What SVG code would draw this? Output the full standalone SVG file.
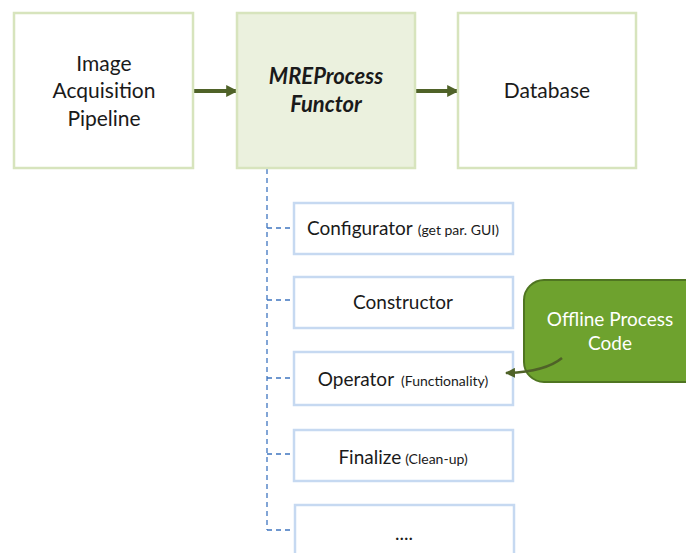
<svg xmlns="http://www.w3.org/2000/svg" width="686" height="553" viewBox="0 0 686 553">
<style>
.top{fill:#ffffff;stroke:#d7e4bd;stroke-width:2.5}
.mid{fill:#ebf1de;stroke:#d7e4bd;stroke-width:2.5}
.sub{fill:#ffffff;stroke:#c6d9f1;stroke-width:2.5}
.t{font-family:Lato,"Open Sans","Liberation Sans",sans-serif;fill:#1a1a1a;text-anchor:middle}
.big{font-size:21px}
.m{font-size:19px}
.s{font-size:14px}
.dash{fill:none;stroke:#3f76c0;stroke-width:1.3;stroke-dasharray:5 4}
</style>
<defs>
<marker id="ah" viewBox="0 0 10 10" refX="9" refY="5" markerWidth="3" markerHeight="3" orient="auto" markerUnits="strokeWidth">
<path d="M0,0 L10,5 L0,10 Z" fill="#4f6228"/>
</marker>
<marker id="ah2" viewBox="0 0 10 10" refX="9" refY="5" markerWidth="4" markerHeight="4" orient="auto" markerUnits="strokeWidth">
<path d="M0,0 L10,5 L0,10 Z" fill="#4f6228"/>
</marker>
</defs>
<g id="connectors">
<path class="dash" d="M267,169 V530"/>
<path class="dash" d="M267,228 H294 M267,300 H294 M267,378 H294 M267,454 H294 M267,530 H294"/>
<line x1="193" y1="91" x2="237" y2="91" stroke="#4f6228" stroke-width="4" marker-end="url(#ah)"/>
<line x1="415" y1="91" x2="458" y2="91" stroke="#4f6228" stroke-width="4" marker-end="url(#ah)"/>
</g>
<g id="image-acquisition">
<rect class="top" x="14" y="13" width="179" height="155"/>
<text class="t big" x="104" y="71">Image</text>
<text class="t big" x="104" y="98">Acquisition</text>
<text class="t big" x="104" y="126">Pipeline</text>
</g>
<g id="mreprocess">
<rect class="mid" x="237" y="13" width="178" height="155"/>
<text class="t big" x="326" y="84" font-weight="bold" font-style="italic" style="font-size:22px">MREProcess</text>
<text class="t big" x="326" y="112" font-weight="bold" font-style="italic" style="font-size:22px">Functor</text>
</g>
<g id="database">
<rect class="top" x="458" y="13" width="178" height="155"/>
<text class="t big" x="547" y="98">Database</text>
</g>
<g id="configurator">
<rect class="sub" x="294" y="203" width="219" height="51"/>
<text class="t" x="403" y="235"><tspan class="m">Configurator</tspan><tspan class="s" dx="5">(get par. GUI)</tspan></text>
</g>
<g id="constructor">
<rect class="sub" x="294" y="277" width="219" height="51"/>
<text class="t m" x="403" y="309">Constructor</text>
</g>
<g id="operator">
<rect class="sub" x="294" y="352" width="219" height="53"/>
<text class="t" x="403" y="386"><tspan class="m">Operator</tspan><tspan class="s" dx="7">(Functionality)</tspan></text>
</g>
<g id="finalize">
<rect class="sub" x="294" y="430" width="219" height="51"/>
<text class="t" x="403" y="464"><tspan class="m">Finalize</tspan><tspan class="s" dx="4">(Clean-up)</tspan></text>
</g>
<g id="more">
<rect class="sub" x="295" y="505" width="219" height="60"/>
<text class="t m" x="404" y="540">....</text>
</g>
<g id="offline">
<rect x="524" y="280" width="182" height="102" rx="20" ry="20" fill="#6ea22e" stroke="#4f7521" stroke-width="2"/>
<text class="t m" x="610" y="326" style="fill:#ffffff">Offline Process</text>
<text class="t m" x="610" y="350" style="fill:#ffffff">Code</text>
</g>
<g id="offline-arrow">
<path d="M562,358 Q545,372 506,373" fill="none" stroke="#4f6228" stroke-width="2.5" marker-end="url(#ah2)"/>
</g>
</svg>
